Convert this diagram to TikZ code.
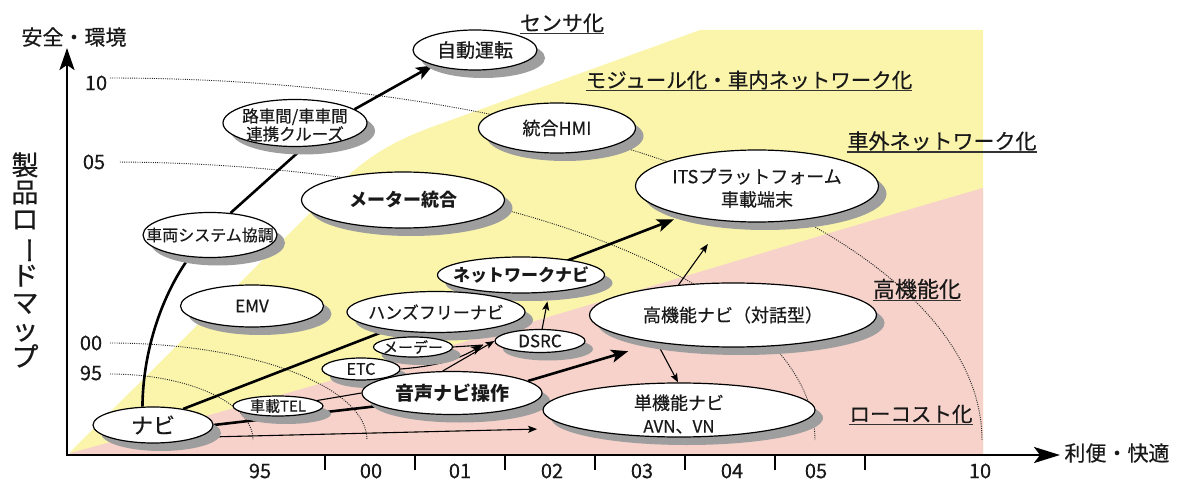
\documentclass[tikz,border=0pt]{standalone}
\usepackage{fontspec}
\setmainfont{Noto Sans CJK JP}[UprightFeatures={FakeBold=0.45}]
\usepackage{graphicx}
\usetikzlibrary{shapes.geometric,shadows,arrows.meta,backgrounds}
\newcommand\myfs[2]{\fontsize{#1}{#2}\selectfont}
\definecolor{bgyellow}{RGB}{251,245,172}
\definecolor{bgpink}{RGB}{246,210,202}
\begin{document}
\begin{tikzpicture}[x=1pt,y=-1pt,
  el/.style={ellipse, draw=black, line width=1.2pt, fill=white, inner sep=0pt,
     drop shadow={shadow xshift=8pt, shadow yshift=-8pt, fill=black!38, opacity=1}},
  lbl/.style={inner sep=0pt, align=center, text=black!90},
  cat/.style={inner sep=0pt, text=black!90},
  uline/.style={line width=1.4pt, black!80},
  dots/.style={black!85, line width=0.9pt, dash pattern=on 1pt off 1.2pt},
  thickc/.style={line width=2.6pt, black},
  thinc/.style={line width=1.1pt, black},
  bighead/.style={-{Stealth[length=17pt,width=13pt,inset=4pt]}},
  midhead/.style={-{Stealth[length=12pt,width=9pt,inset=3pt]}},
  smallhead/.style={-{Stealth[length=9pt,width=7pt,inset=2pt]}},
  axisline/.style={line width=2.6pt, black, line join=miter},
  tick/.style={line width=1.3pt, black},
  num/.style={inner sep=0pt, font=\myfs{20}{20}, text=black!90}
]
\useasboundingbox (0,0) rectangle (1178,481);

% ---------- ellipses ----------
\node[el, minimum width=124pt, minimum height=40pt] (jido) at (475,50) {};
\node[lbl, font=\myfs{19}{19}] (jido-t) at (jido) {自動運転};

\node[el, minimum width=144pt, minimum height=47pt] (rosha) at (295,123) {};
\node[lbl, font=\myfs{16.5}{18}] (rosha-t) at (295,125) {路車間/車車間\\連携クルーズ};

\node[el, minimum width=157pt, minimum height=50pt] (togo) at (557,128) {};
\node[lbl, font=\myfs{18}{18}] (togo-t) at (togo) {統合HMI};

\node[el, minimum width=203pt, minimum height=56pt] (meter) at (403,200) {};
\node[lbl, font=\myfs{18}{18}\bfseries] (meter-t) at (meter) {メーター統合};

\node[el, minimum width=243pt, minimum height=72pt] (its) at (757,186) {};
\node[lbl, font=\myfs{18}{23}] (its-t) at (757,188) {ITSプラットフォーム\\車載端末};

\node[el, minimum width=134pt, minimum height=45pt] (shasys) at (210,235) {};
\node[lbl, font=\myfs{16}{16}] (shasys-t) at (shasys) {車両システム協調};

\node[el, minimum width=143pt, minimum height=42pt] (emv) at (252,306) {};
\node[lbl, font=\myfs{17}{17}] (emv-t) at (emv) {EMV};

\node[el, minimum width=167pt, minimum height=36pt] (netnavi) at (521,275) {};
\node[lbl, font=\myfs{17}{17}\bfseries] (netnavi-t) at (netnavi) {ネットワークナビ};

\node[el, minimum width=178pt, minimum height=41pt] (hands) at (436,312) {};
\node[lbl, font=\myfs{17}{17}] (hands-t) at (hands) {ハンズフリーナビ};

\node[el, minimum width=79pt, minimum height=20pt] (mede) at (413,347) {};
\node[lbl, font=\myfs{15}{15}] (mede-t) at (mede) {メーデー};

\node[el, minimum width=78pt, minimum height=22pt] (etc) at (361,369) {};
\node[lbl, font=\myfs{16}{16}] (etc-t) at (etc) {ETC};

\node[el, minimum width=90pt, minimum height=23pt] (dsrc) at (540,341) {};
\node[lbl, font=\myfs{17}{17}] (dsrc-t) at (dsrc) {DSRC};

\node[el, minimum width=180pt, minimum height=43pt] (onsei) at (452,393) {};
\node[lbl, font=\myfs{19}{19}\bfseries] (onsei-t) at (onsei) {音声ナビ操作};

\node[el, minimum width=90pt, minimum height=20pt] (tel) at (278,406) {};
\node[lbl, font=\myfs{15}{15}] (tel-t) at (tel) {車載TEL};

\node[el, minimum width=120pt, minimum height=36pt] (navi) at (153,425) {};
\node[lbl, font=\myfs{22}{22}] (navi-t) at (navi) {ナビ};

\node[el, minimum width=287pt, minimum height=64pt] (koki) at (733,315) {};
\node[lbl, font=\myfs{18}{18}] (koki-t) at (koki) {高機能ナビ（対話型）};

\node[el, minimum width=272pt, minimum height=54pt] (tanki) at (679,410) {};
\node[lbl, font=\myfs{18}{23}] (tanki-t) at (679,414) {単機能ナビ\\{\myfs{17}{23}AVN、VN}};

% ---------- category labels ----------
\node[cat, font=\myfs{21}{21}] (c1) at (562,23) {センサ化};
\node[cat, font=\myfs{20.5}{21}] (c2) at (749,80) {モジュール化・車内ネットワーク化};
\node[cat, font=\myfs{21}{21}] (c3) at (942,141) {車外ネットワーク化};
\node[cat, font=\myfs{22}{22}] (c4) at (917,289) {高機能化};
\node[cat, font=\myfs{20.5}{21}] (c5) at (911,414) {ローコスト化};
\foreach \c in {c1,c2,c3,c4,c5}
  \draw[uline] ([yshift=-1pt]\c.south west) -- ([yshift=-1pt]\c.south east);

% ---------- axes ----------
\coordinate (O) at (67,455);
\coordinate (ytip) at (67,48);
\coordinate (xtip) at (1060,455);
\draw[axisline, {Stealth[length=22pt,width=15pt,inset=5pt]}-{Stealth[length=26pt,width=16pt,inset=6pt]}] (ytip) -- (O) -- (xtip);
\foreach \x in {325,415,505,595,685,775,865}
  \draw[tick] (\x,455) -- (\x,470);

\node[cat, font=\myfs{21}{21}] (ylab) at (74,37) {安全・環境};
\node[cat, font=\myfs{21}{21}] (xlab) at (1117,453) {利便・快適};
\node[lbl, font=\myfs{27}{27}] (vtitle) at (25,260) {製\\品\\ロ\\\rotatebox[origin=c]{-90}{ー}\\ド\\マ\\ッ\\プ};

\node[num] (y10) at (96,83) {10};
\node[num] (y05) at (94,162) {05};
\node[num] (y00) at (91,343) {00};
\node[num] (y95) at (91,373) {95};

\node[num] (x95) at (260,471) {95};
\node[num] (x00) at (371,471) {00};
\node[num] (x01) at (460,471) {01};
\node[num] (x02) at (552,471) {02};
\node[num] (x03) at (642,471) {03};
\node[num] (x04) at (732,471) {04};
\node[num] (x05) at (816,471) {05};
\node[num] (x10) at (980,471) {10};

\coordinate (etcend) at (483,345);

% ---------- background: regions, arcs, connectors ----------
\begin{pgfonlayer}{background}
  \fill[bgyellow] (70,452) -- (335,188) .. controls (368,155) and (395,140) .. (440,124)
     -- (700,30) -- (983,30) -- (983,455) -- (70,455) -- cycle;
  \fill[bgpink] (70,453) .. controls (400,365) and (700,270) .. (983,188)
     -- (983,455) -- (70,455) -- cycle;

  \draw[dots] plot[domain=90:0, samples=90] ({110+872*cos(\x)}, {440-362*sin(\x)});
  \draw[dots] plot[domain=89.2:0, samples=80] ({110+705*cos(\x)}, {440-278*sin(\x)});
  \draw[dots] plot[domain=90:0, samples=50] ({110+257*cos(\x)}, {440-97*sin(\x)});
  \draw[dots] plot[domain=90:0, samples=40] ({110+143*cos(\x)}, {440-66*sin(\x)});

  % thick connectors
  \draw[thickc] (navi.120) .. controls (143,350) and (162,295) .. (shasys.227);
  \draw[thickc] (shasys.47) -- (rosha.-69);
  \draw[thickc, bighead] (rosha.13) -- (jido.200);
  \draw[thickc, bighead, shorten >=11pt] (navi.28) -- (its.202);
  \draw[thickc] (navi.east) -- (onsei.190);
  \draw[thickc, bighead, shorten >=30pt] (onsei.9) -- (koki.200);

  % thin connectors
  \draw[thinc, smallhead, shorten >=39pt] (navi.-15) -- (tanki.190);
  \draw[thinc] (tel.8) -- (onsei.180);
  \draw[thinc, midhead] (etc.east) .. controls (440,366) and (460,358) .. (etcend);
  \draw[thinc] (mede.east) -- (etcend);
  \draw[thinc, smallhead] (onsei.113) -- (dsrc.west);
  \draw[thinc, smallhead, shorten >=9pt] (dsrc.80) -- (netnavi.-32);
  \draw[thinc, smallhead, shorten >=28pt] (koki.151) -- (its.227);
  \draw[thinc, smallhead] (koki.200) -- (tanki.92);
\end{pgfonlayer}
\end{tikzpicture}
\end{document}
